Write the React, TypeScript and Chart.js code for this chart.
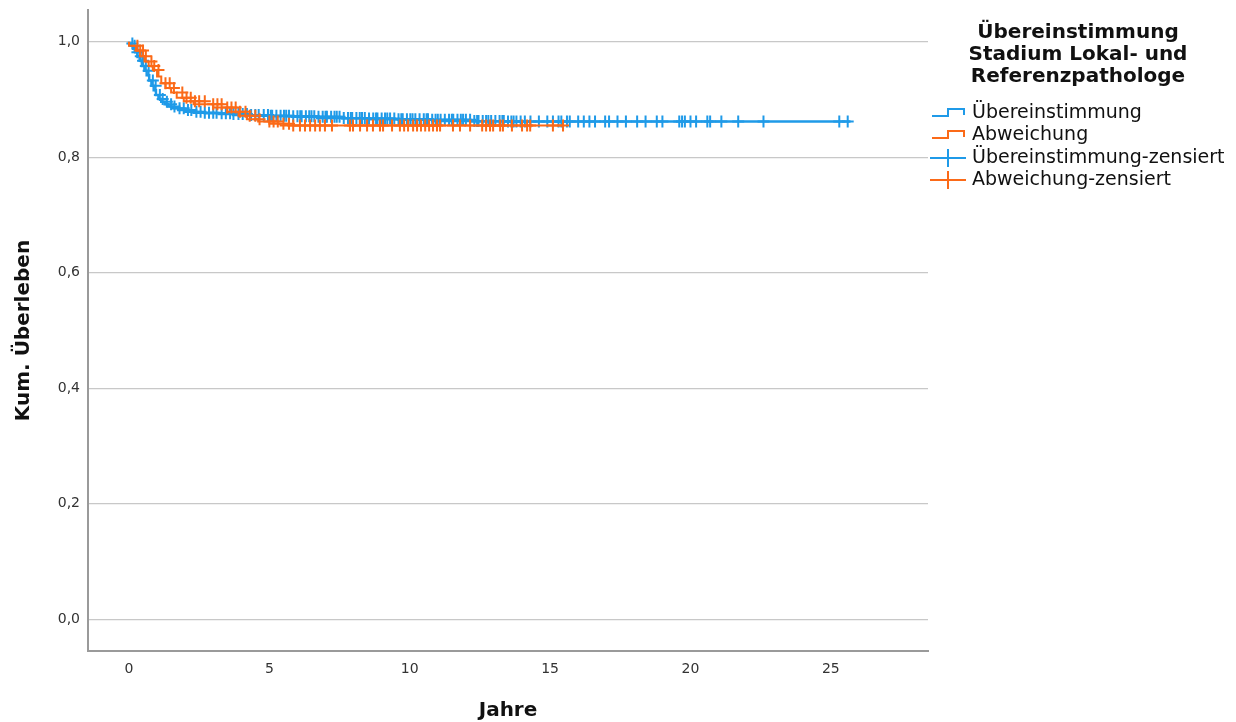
import React, { useEffect, useRef } from "react";
import { Chart, registerables } from "chart.js";

Chart.register(...registerables);

// ---- Data ----
const xTicks = [0, 5, 10, 15, 20, 25];
const yTicks = [0, 0.2, 0.4, 0.6, 0.8, 1.0];

const seriesNames = ["Übereinstimmung", "Abweichung"];
const legendTitle = ["Übereinstimmung", "Stadium Lokal- und", "Referenzpathologe"];
const legendLabels = [
  "Übereinstimmung",
  "Abweichung",
  "Übereinstimmung-zensiert",
  "Abweichung-zensiert",
];

// Übereinstimmung (blue): step times and survival
const blueTimes = [0, 0.08, 0.15, 0.22, 0.3, 0.38, 0.46, 0.55, 0.63, 0.72, 0.8, 0.88, 0.96, 1.05, 1.15, 1.27, 1.4, 1.55, 1.75, 2.0, 2.3, 2.7, 3.2, 3.7, 4.3, 5.0, 5.8, 6.7, 7.6, 8.5, 9.6, 10.8, 12.2, 13.5, 25.7];
const blueSurv = [1.0, 0.997, 0.993, 0.988, 0.982, 0.975, 0.967, 0.958, 0.95, 0.942, 0.933, 0.924, 0.916, 0.908, 0.901, 0.896, 0.892, 0.888, 0.885, 0.882, 0.879, 0.877, 0.876, 0.875, 0.873, 0.872, 0.871, 0.87, 0.868, 0.867, 0.866, 0.865, 0.863, 0.862, 0.862];

// Abweichung (orange)
const orangeTimes = [0, 0.25, 0.4, 0.55, 0.7, 0.85, 1.0, 1.15, 1.3, 1.5, 1.7, 1.95, 2.3, 3.0, 3.5, 3.9, 4.2, 4.6, 5.0, 5.4, 5.8, 15.5];
const orangeSurv = [1.0, 0.993, 0.985, 0.975, 0.966, 0.958, 0.951, 0.94, 0.928, 0.92, 0.912, 0.903, 0.897, 0.892, 0.886, 0.879, 0.872, 0.866, 0.862, 0.858, 0.855, 0.855];

// censored times
const blueCensor = [0.12, 0.2, 0.3, 0.42, 0.5, 0.6, 0.7, 0.85, 0.95, 1.1, 1.2, 1.35, 1.5, 1.62, 1.8, 1.95, 2.1, 2.22, 2.4, 2.55, 2.7, 2.85, 3.0, 3.12, 3.3, 3.45, 3.6, 3.72, 3.9, 4.05, 4.2, 4.35, 4.5, 4.62, 4.8, 4.95, 5.05, 5.1, 5.25, 5.4, 5.52, 5.6, 5.7, 5.85, 6.0, 6.1, 6.15, 6.3, 6.42, 6.5, 6.6, 6.75, 6.9, 7.0, 7.05, 7.2, 7.32, 7.4, 7.5, 7.65, 7.8, 7.9, 7.95, 8.1, 8.22, 8.3, 8.4, 8.55, 8.7, 8.8, 8.85, 9.0, 9.12, 9.2, 9.3, 9.45, 9.6, 9.7, 9.75, 9.9, 10.02, 10.1, 10.2, 10.35, 10.5, 10.6, 10.65, 10.8, 10.92, 11.0, 11.1, 11.25, 11.4, 11.5, 11.55, 11.7, 11.82, 11.9, 12.0, 12.15, 12.3, 12.4, 12.45, 12.6, 12.72, 12.8, 12.9, 13.05, 13.2, 13.3, 13.35, 13.5, 13.62, 13.7, 13.8, 13.95, 14.1, 14.3, 14.6, 14.9, 15.1, 15.3, 15.4, 15.6, 15.7, 16.0, 16.2, 16.4, 16.6, 16.96, 17.1, 17.4, 17.7, 18.1, 18.4, 18.8, 19.0, 19.6, 19.7, 19.8, 20.0, 20.2, 20.6, 20.7, 21.1, 21.7, 22.6, 25.3, 25.6];
const orangeCensor = [0.3, 0.4, 0.5, 0.6, 0.8, 0.9, 1.05, 1.3, 1.45, 1.6, 1.9, 2.05, 2.2, 2.35, 2.5, 2.7, 3.0, 3.15, 3.3, 3.5, 3.65, 3.8, 3.95, 4.15, 4.3, 4.5, 4.65, 5.0, 5.15, 5.3, 5.5, 5.7, 5.85, 6.09, 6.27, 6.45, 6.63, 6.8, 6.98, 7.23, 7.87, 7.98, 8.23, 8.48, 8.69, 8.94, 9.05, 9.37, 9.65, 9.8, 9.94, 10.12, 10.26, 10.4, 10.55, 10.69, 10.83, 10.97, 11.08, 11.54, 11.79, 12.15, 12.58, 12.72, 12.86, 12.97, 13.22, 13.32, 13.64, 14.0, 14.18, 14.29, 15.1, 15.46];

const BLUE = "#1f9ae8";
const ORANGE = "#fb6a18";

function stepValue(times: number[], surv: number[], t: number): number {
  let v = surv[0];
  for (let i = 0; i < times.length; i++) {
    if (times[i] <= t) v = surv[i];
  }
  return v;
}

const FONT = "'DejaVu Sans', sans-serif";

const overlayPlugin = {
  id: "overlay",
  afterDraw(chart: any) {
    const ctx = chart.ctx as CanvasRenderingContext2D;
    const area = chart.chartArea;
    ctx.save();
    ctx.fillStyle = "#111";
    // Axis titles
    ctx.font = `bold 20px ${FONT}`;
    ctx.textAlign = "center";
    ctx.textBaseline = "middle";
    ctx.fillText("Jahre", (area.left + area.right) / 2, 711);
    ctx.save();
    ctx.translate(24, (area.top + area.bottom) / 2);
    ctx.rotate(-Math.PI / 2);
    ctx.fillText("Kum. Überleben", 0, 0);
    ctx.restore();

    // Legend title
    ctx.font = `bold 20px ${FONT}`;
    const tY = [33, 55, 77];
    legendTitle.forEach((s, i) => ctx.fillText(s, 1078, tY[i]));

    // Legend entries
    ctx.font = `19px ${FONT}`;
    ctx.textAlign = "left";
    const eY = [113, 135, 158, 180];
    const cols = [BLUE, ORANGE, BLUE, ORANGE];
    legendLabels.forEach((s, i) => {
      ctx.fillStyle = "#111";
      ctx.fillText(s, 972, eY[i]);
      ctx.strokeStyle = cols[i];
      ctx.lineWidth = 2;
      ctx.beginPath();
      const y = eY[i];
      if (i < 2) {
        ctx.moveTo(932, y + 3);
        ctx.lineTo(948, y + 3);
        ctx.lineTo(948, y - 4);
        ctx.lineTo(964, y - 4);
        ctx.lineTo(964, y + 2);
      } else {
        ctx.moveTo(930, y);
        ctx.lineTo(966, y);
        ctx.moveTo(948, y - 9);
        ctx.lineTo(948, y + 9);
      }
      ctx.stroke();
    });
    ctx.restore();
  },
};

export default function App() {
  const ref = useRef<HTMLCanvasElement | null>(null);

  useEffect(() => {
    if (!ref.current) return;
    const bluePts = blueTimes.map((t, i) => ({ x: t, y: blueSurv[i] }));
    const orangePts = orangeTimes.map((t, i) => ({ x: t, y: orangeSurv[i] }));
    const blueC = blueCensor.map((t) => ({ x: t, y: stepValue(blueTimes, blueSurv, t) }));
    const orangeC = orangeCensor.map((t) => ({ x: t, y: stepValue(orangeTimes, orangeSurv, t) }));

    const chart = new Chart(ref.current, {
      type: "scatter",
      data: {
        datasets: [
          {
            label: seriesNames[1] + "-zensiert",
            data: orangeC,
            showLine: false,
            pointStyle: "cross",
            pointRadius: 6,
            pointBorderWidth: 2,
            borderColor: ORANGE,
            backgroundColor: ORANGE,
          },
          {
            label: seriesNames[1],
            data: orangePts,
            showLine: true,
            stepped: "after",
            borderColor: ORANGE,
            borderWidth: 2,
            pointRadius: 0,
            fill: false,
          },
          {
            label: seriesNames[0] + "-zensiert",
            data: blueC,
            showLine: false,
            pointStyle: "cross",
            pointRadius: 6,
            pointBorderWidth: 2,
            borderColor: BLUE,
            backgroundColor: BLUE,
          },
          {
            label: seriesNames[0],
            data: bluePts,
            showLine: true,
            stepped: "after",
            borderColor: BLUE,
            borderWidth: 2.5,
            pointRadius: 0,
            fill: false,
          },
        ],
      } as any,
      options: {
        responsive: false,
        animation: false,
        devicePixelRatio: 1,
        layout: { padding: { top: 10, right: 308, left: 0, bottom: 0 } },
        plugins: { legend: { display: false }, tooltip: { enabled: false } },
        scales: {
          x: {
            type: "linear",
            min: -1.46,
            max: 28.46,
            afterFit: (s: any) => {
              s.height = 71;
              s.paddingLeft = 0;
              s.paddingRight = 0;
            },
            afterBuildTicks: (s: any) => {
              s.ticks = xTicks.map((v) => ({ value: v }));
            },
            grid: { display: false, drawTicks: false },
            border: { display: true, color: "#9a9a9a", width: 2 },
            ticks: {
              padding: 10,
              color: "#333",
              font: { family: "DejaVu Sans", size: 14 },
              maxRotation: 0,
              autoSkip: false,
              callback: (v: any) => String(v),
            },
          },
          y: {
            type: "linear",
            min: -0.055,
            max: 1.055,
            afterFit: (s: any) => {
              s.width = 88;
              s.paddingTop = 0;
              s.paddingBottom = 0;
            },
            afterBuildTicks: (s: any) => {
              s.ticks = yTicks.map((v) => ({ value: v }));
            },
            grid: { display: true, color: "#c8c8c8", lineWidth: 1.2, drawTicks: false },
            border: { display: true, color: "#9a9a9a", width: 2 },
            ticks: {
              padding: 8,
              color: "#333",
              font: { family: "DejaVu Sans", size: 14 },
              autoSkip: false,
              callback: (v: any) => Number(v).toFixed(1).replace(".", ","),
            },
          },
        },
      } as any,
      plugins: [overlayPlugin],
    });
    return () => chart.destroy();
  }, []);

  return (
    <div style={{ position: "absolute", left: 0, top: 0, width: 1236, height: 722, background: "#fff" }}>
      <canvas ref={ref} width={1236} height={722} style={{ display: "block" }} />
    </div>
  );
}
